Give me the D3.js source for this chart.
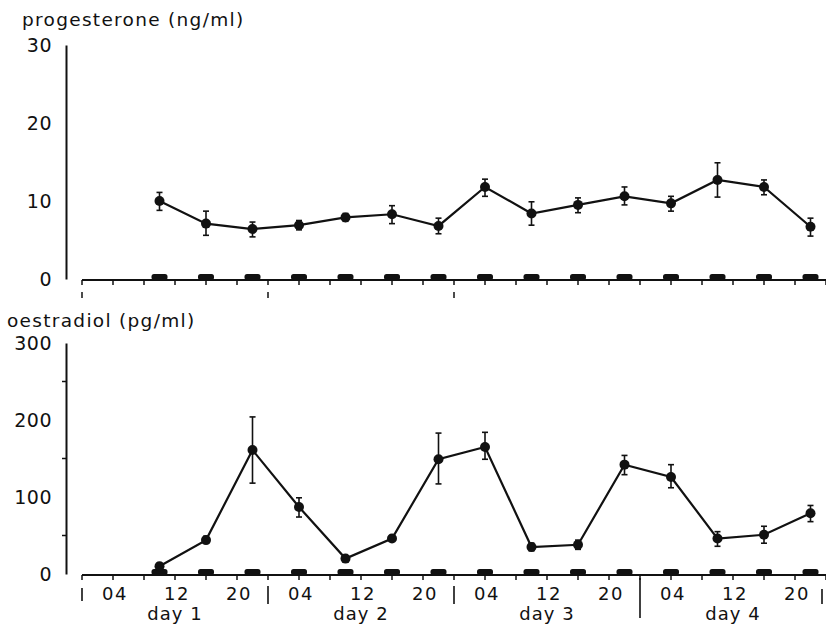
<!DOCTYPE html>
<html><head><meta charset="utf-8">
<script src="https://cdn.jsdelivr.net/npm/d3@7"></script>
<style>body{margin:0;background:#fff}svg{display:block}text{font-family:"DejaVu Sans",sans-serif;fill:#111}</style>
</head><body><svg id="c" width="826" height="629"></svg>
<script>
// sample times (hours from start of day 1)
const sampleHours = [10,16,22,28,34,40,46,52,58,64,70,76,82,88,94];
const progMean = [10.0,7.1,6.4,6.9,7.9,8.3,6.8,11.8,8.4,9.5,10.6,9.7,12.7,11.8,6.7];
const progHi   = [11.1,8.7,7.3,7.5,8.4,9.4,7.8,12.8,9.9,10.4,11.8,10.6,14.9,12.7,7.8];
const progLo   = [8.8,5.6,5.4,6.3,7.4,7.1,5.8,10.6,6.9,8.5,9.5,8.7,10.5,10.8,5.5];
const oestMean = [10,44,161,87,20,46,149,165,35,38,142,126,46,51,79];
const oestHi   = [14,49,204,99,23,50,183,184,40,44,154,142,55,62,89];
const oestLo   = [6,40,118,74,17,43,117,149,30,32,129,112,36,40,68];
const tickHours = [0,4,8,12,16,20,24,28,32,36,40,44,48,52,56,60,64,68,72,76,80,84,88,92,96];
const hourLabels = ["04","12","20"];
const dayLabels = ["day 1","day 2","day 3","day 4"];
const dayStarts = [0,24,48,72,96];
const progTicks = [0,10,20,30];
const oestTicks = [0,100,200,300];
const oestMinor = [50,150,250];

const svg = d3.select("#c");
const x = d3.scaleLinear().domain([0,96]).range([82,826]);

function panel(y, ticks, mean, hi, lo, title, titleY, minor){
  const g = svg.append("g");
  const y0 = y(0);
  // y axis
  const ax = d3.axisLeft(y).tickValues(ticks).tickSize(0).tickSizeOuter(0).tickPadding(14).tickFormat(d3.format("d"));
  const ag = g.append("g").attr("transform","translate(66,0)").call(ax);
  ag.select(".domain").attr("stroke","#111").attr("stroke-width",2);
  ag.selectAll("text").style("font-size","19px").style("letter-spacing","0.5px").attr("fill","#111").attr("dy","0.36em");
  if(minor){
    g.selectAll(".mn").data(minor).join("line")
      .attr("x1",62).attr("x2",66).attr("y1",d=>y(d)).attr("y2",d=>y(d))
      .attr("stroke","#111").attr("stroke-width",1.5);
  }
  // title
  g.append("text").attr("x", title.x).attr("y", titleY).text(title.t)
    .style("font-size","18.5px").style("letter-spacing","1.3px");
  // x axis line and ticks
  g.append("line").attr("x1",x(0)).attr("x2",x(96)).attr("y1",y0+1).attr("y2",y0+1)
    .attr("stroke","#111").attr("stroke-width",1.8);
  g.selectAll(".xt").data(tickHours).join("line")
    .attr("x1",d=>x(d)).attr("x2",d=>x(d)).attr("y1",y0+1).attr("y2",y0+6)
    .attr("stroke","#111").attr("stroke-width",1.5);
  // black bars at sampling times
  g.selectAll(".bar").data(sampleHours).join("rect")
    .attr("x",d=>x(d)-8).attr("width",16).attr("y",y0-5).attr("height",6).attr("rx",2.5)
    .attr("fill","#111");
  // error bars
  const eb = g.selectAll(".eb").data(sampleHours.map((h,i)=>({h,m:mean[i],hi:hi[i],lo:lo[i]}))).join("g");
  eb.append("line").attr("x1",d=>x(d.h)).attr("x2",d=>x(d.h)).attr("y1",d=>y(d.hi)).attr("y2",d=>y(d.lo))
    .attr("stroke","#111").attr("stroke-width",1.6);
  eb.append("line").attr("x1",d=>x(d.h)-3).attr("x2",d=>x(d.h)+3).attr("y1",d=>y(d.hi)).attr("y2",d=>y(d.hi))
    .attr("stroke","#111").attr("stroke-width",1.6);
  eb.append("line").attr("x1",d=>x(d.h)-3).attr("x2",d=>x(d.h)+3).attr("y1",d=>y(d.lo)).attr("y2",d=>y(d.lo))
    .attr("stroke","#111").attr("stroke-width",1.6);
  // line
  const line = d3.line().x((d,i)=>x(sampleHours[i])).y(d=>y(d));
  g.append("path").datum(mean).attr("d",line).attr("fill","none").attr("stroke","#111").attr("stroke-width",2.2);
  g.selectAll(".pt").data(mean).join("circle")
    .attr("cx",(d,i)=>x(sampleHours[i])).attr("cy",d=>y(d)).attr("r",5).attr("fill","#111");
  return g;
}

const yP = d3.scaleLinear().domain([0,30]).range([279,45]);
const yO = d3.scaleLinear().domain([0,300]).range([574,343]);

panel(yP, progTicks, progMean, progHi, progLo, {x:22,t:"progesterone (ng/ml)"}, 26, null);
panel(yO, oestTicks, oestMean, oestHi, oestLo, {x:7,t:"oestradiol (pg/ml)"}, 327, oestMinor);

// day divider marks under the upper panel
svg.selectAll(".dmu").data(dayStarts.slice(0,3)).join("line")
  .attr("x1",d=>x(d)).attr("x2",d=>x(d)).attr("y1",292).attr("y2",298)
  .attr("stroke","#111").attr("stroke-width",1.5);

// lower axis labels
const labelData = [];
dayStarts.slice(0,4).forEach(ds=>{ [4,12,20].forEach((h,k)=>labelData.push({h:ds+h,t:hourLabels[k]})); });
svg.selectAll(".hl").data(labelData).join("text")
  .attr("x",d=>x(d.h)+2).attr("y",600).attr("text-anchor","middle").text(d=>d.t)
  .style("font-size","18px").style("letter-spacing","1.5px");
svg.selectAll(".dl").data(dayLabels).join("text")
  .attr("x",(d,i)=>x(dayStarts[i]+12)).attr("y",620).attr("text-anchor","middle").text(d=>d)
  .style("font-size","18px").style("letter-spacing","1px");
// day dividers on lower axis
const divs = [{h:0,a:588,b:601},{h:24,a:586,b:604},{h:48,a:586,b:604},{h:72,a:578,b:618},{h:96,a:589,b:604}];
svg.selectAll(".dv").data(divs).join("line")
  .attr("x1",d=>Math.min(x(d.h),822)).attr("x2",d=>Math.min(x(d.h),822)).attr("y1",d=>d.a).attr("y2",d=>d.b)
  .attr("stroke","#111").attr("stroke-width",1.6);
</script></body></html>
